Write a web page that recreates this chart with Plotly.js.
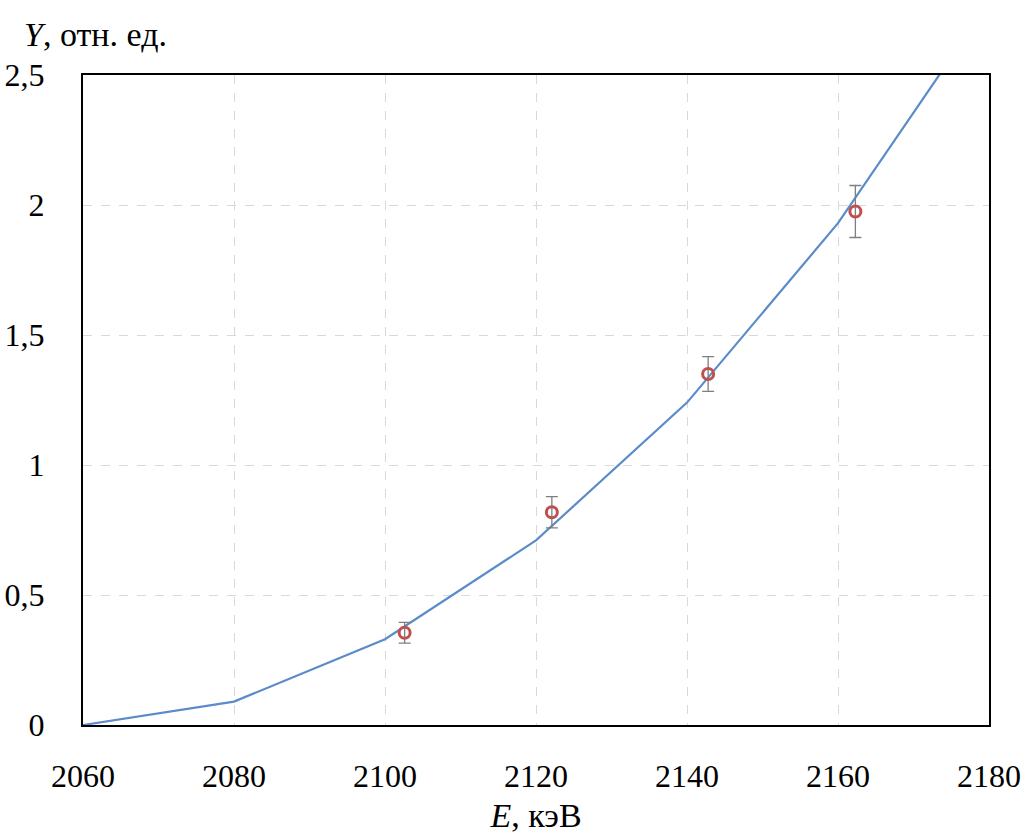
<!DOCTYPE html>
<html>
<head>
<meta charset="utf-8">
<script src="https://cdn.plot.ly/plotly-3.0.1.min.js"></script>
<style>
html,body{margin:0;padding:0;background:#fff;font-family:'Liberation Serif',serif;}
#chart{width:1026px;height:834px;}
#chart svg text, #chart text, #chart tspan{font-family:'Liberation Serif','Times New Roman',serif !important;}
</style>
</head>
<body>
<div id="chart"></div>
<script>
// Calculated yield curve
const curveE = [2060, 2080, 2100, 2120, 2140, 2160, 2180];
const curveY = [0, 0.09, 0.33, 0.71, 1.24, 1.93, 2.78];

// Measured points with uncertainties
const measE = [2102.6, 2122.1, 2142.8, 2162.3];
const measY = [0.355, 0.818, 1.35, 1.975];
const measErr = [0.04, 0.06, 0.067, 0.1];

const yTicks = [0, 0.5, 1, 1.5, 2, 2.5];
const xTicks = [2060, 2080, 2100, 2120, 2140, 2160, 2180];

const fontFamily = 'Liberation Serif';
const serifStack = "'Liberation Serif', 'Times New Roman', serif";

const traces = [
  {
    x: curveE, y: curveY, mode: 'lines', type: 'scatter',
    line: {color: '#5b8bc9', width: 2.2},
    hoverinfo: 'skip', showlegend: false
  },
  {
    x: measE, y: measY, mode: 'markers', type: 'scatter',
    marker: {symbol: 'circle-open', size: 11, color: '#c0504d', line: {width: 3, color: '#c0504d'}},
    error_y: {type: 'data', array: measErr, visible: true, color: '#7f7f7f', thickness: 1.3, width: 6},
    showlegend: false
  }
];

const layout = {
  width: 1026, height: 834,
  margin: {l: 83, r: 37, t: 75, b: 109},
  paper_bgcolor: '#fff', plot_bgcolor: '#fff',
  separators: ', ',
  font: {family: fontFamily, size: 32},
  xaxis: {
    range: [2060, 2180], tickvals: xTicks,
    showgrid: true, gridcolor: '#d9d9d9', griddash: 'dash', gridwidth: 1.3,
    zeroline: false, showline: true, mirror: true, linecolor: '#000', linewidth: 2,
    ticks: '', ticklabelstandoff: 22,
    tickfont: {color: '#000'},
    title: {text: '<i>E</i>, кэВ', font: {size: 34, color: '#000'}, standoff: 14}
  },
  yaxis: {
    range: [0, 2.5], tickvals: yTicks,
    showgrid: true, gridcolor: '#d9d9d9', griddash: 'dash', gridwidth: 1.3,
    zeroline: false, showline: true, mirror: true, linecolor: '#000', linewidth: 2,
    ticks: '', ticklabelstandoff: 30,
    tickfont: {color: '#000'}
  },
  annotations: [{
    xref: 'paper', yref: 'paper', x: -0.067, y: 1.0, xanchor: 'left', yanchor: 'bottom',
    yshift: 20, text: '<i>Y</i>, отн. ед.', showarrow: false,
    font: {size: 34, color: '#000'}
  }]
};

const chartEl = document.getElementById('chart');

// keep every label in the serif face, including ones redrawn later
function applySerif() {
  chartEl.querySelectorAll('text, tspan').forEach(function (node) {
    if (node.style.getPropertyValue('font-family') !== serifStack ||
        node.style.getPropertyPriority('font-family') !== 'important') {
      node.style.setProperty('font-family', serifStack, 'important');
    }
  });
}
new MutationObserver(applySerif).observe(chartEl, {childList: true, subtree: true, attributes: true, attributeFilter: ['style']});

Plotly.newPlot('chart', traces, layout, {displayModeBar: false}).then(function (gd) {
  applySerif();
  gd.on('plotly_afterplot', applySerif);
  setTimeout(applySerif, 50);
  setTimeout(applySerif, 300);
});
</script>
</body>
</html>
